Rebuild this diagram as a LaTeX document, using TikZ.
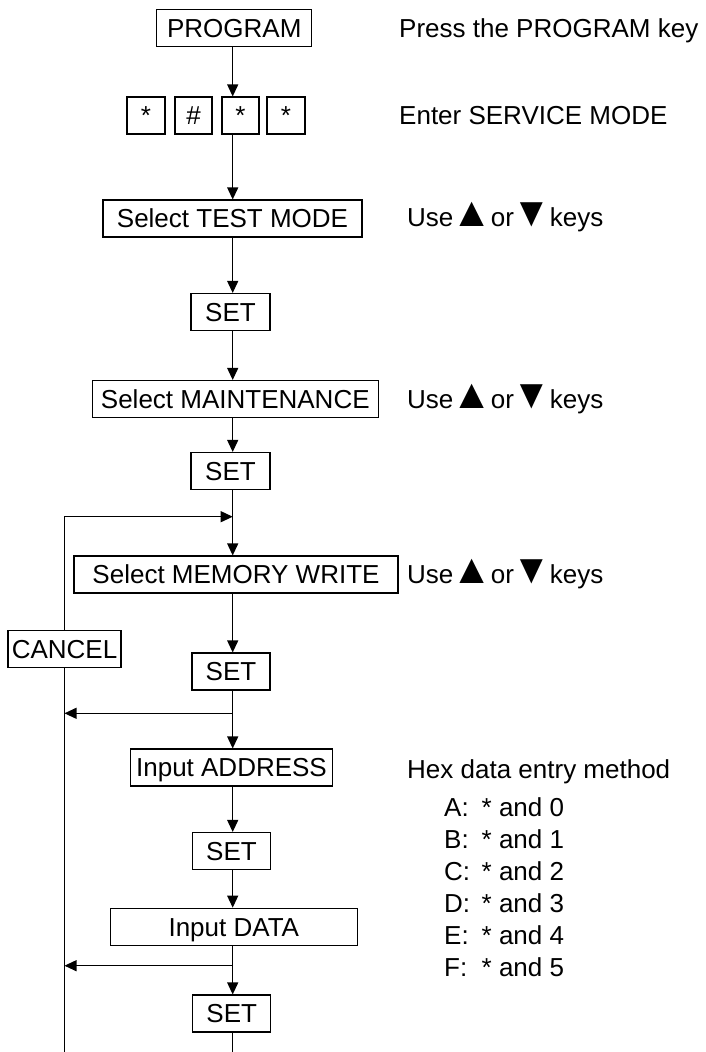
\documentclass[tikz,border=0pt]{standalone}
\usepackage{fontspec}
\setmainfont{Liberation Sans}
\usetikzlibrary{arrows.meta}
\newcommand{\upkey}{\makebox[23pt]{\scalebox{1.6}[1.6]{▲}}}
\newcommand{\downkey}{\makebox[21.5pt]{\scalebox{1.5}[1.6]{▼}}}
\tikzset{
  key/.style={draw,line width=1.1pt,inner sep=0pt,minimum height=37pt,text height=18.6pt,text depth=0pt},
  note/.style={anchor=west,inner sep=0pt,text height=18.6pt,text depth=0pt},
  flow/.style={line width=1.1pt,-{Triangle[length=12pt,width=11pt]}},
  wire/.style={line width=1.1pt}
}
\begin{document}
\begin{tikzpicture}[x=1pt,y=-1pt,font=\fontsize{26}{31}\selectfont]
    \useasboundingbox (0,0) rectangle (705,1052);
    \coordinate (col) at (232.7,0);
    % boxes of the main column
    \node[key,minimum width=155pt] (prog) at (234.3,27.7) {PROGRAM};
    \node[key,minimum width=38pt] (k1) at (146,115.5) {*};
    \node[key,minimum width=37pt] (k2) at (193.5,115.5) {\#};
    \node[key,minimum width=37pt] (k3) at (240.5,115.5) {*};
    \node[key,minimum width=38pt] (k4) at (286,115.5) {*};
    \node[key,minimum width=259pt] (test) at (232.5,218.5) {Select TEST MODE};
    \node[key,minimum width=79pt] (set1) at (230.5,312) {SET};
    \node[key,minimum width=286pt] (maint) at (235.3,399) {Select MAINTENANCE};
    \node[key,minimum width=79pt] (set2) at (230.5,471) {SET};
    \node[key,minimum width=324pt] (mem) at (236,574.5) {Select MEMORY WRITE};
    \node[key,minimum width=78pt] (set3) at (231,671.5) {SET};
    \node[key,minimum width=202pt] (addr) at (231.5,767.5) {Input ADDRESS};
    \node[key,minimum width=78pt] (set4) at (231.5,851) {SET};
    \node[key,minimum width=247pt] (data) at (233.8,926.7) {Input DATA};
    \node[key,minimum width=78pt] (set5) at (231.7,1013.5) {SET};
    \node[key,minimum width=113pt] (cancel) at (64.5,649) {CANCEL};
    % notes on the right
    \node[note] (n1) at (399,27.7) {Press the PROGRAM key};
    \node[note] (n2) at (399,115.5) {Enter SERVICE MODE};
    \node[note] (n3) at (407,217.5) {Use \upkey{} or \downkey{} keys};
    \node[note] (n4) at (407,399) {Use \upkey{} or \downkey{} keys};
    \node[note] (n5) at (407,574) {Use \upkey{} or \downkey{} keys};
    \node[note] (hex) at (407,769) {Hex data entry method};
    \node[note] (hA) at (444,807) {\makebox[37.5pt][l]{A:}* and 0};
    \node[note] (hB) at (444,839) {\makebox[37.5pt][l]{B:}* and 1};
    \node[note] (hC) at (444,871) {\makebox[37.5pt][l]{C:}* and 2};
    \node[note] (hD) at (444,903) {\makebox[37.5pt][l]{D:}* and 3};
    \node[note] (hE) at (444,935) {\makebox[37.5pt][l]{E:}* and 4};
    \node[note] (hF) at (444,967) {\makebox[37.5pt][l]{F:}* and 5};
    % connectors
    \draw[flow] (prog.south -| col) -- (k3.north -| col);
    \draw[flow] (k3.south -| col) -- (test.north -| col);
    \draw[flow] (test.south -| col) -- (set1.north -| col);
    \draw[flow] (set1.south -| col) -- (maint.north -| col);
    \draw[flow] (maint.south -| col) -- (set2.north -| col);
    \draw[flow] (set2.south -| col) -- (mem.north -| col);
    \draw[flow] (mem.south -| col) -- (set3.north -| col);
    \draw[flow] (set3.south -| col) -- (addr.north -| col);
    \draw[flow] (addr.south -| col) -- (set4.north -| col);
    \draw[flow] (set4.south -| col) -- (data.north -| col);
    \draw[flow] (data.south -| col) -- (set5.north -| col);
    \coordinate (bot) at (232.7,1052);
    \draw[wire] (set5.south -| col) -- (bot);
    % cancel loop
    \coordinate (loopin) at (232.7,516.7);
    \coordinate (out1) at (232.7,713.3);
    \coordinate (out2) at (232.7,965.7);
    \coordinate (cbot) at (64.5,1052);
    \draw[flow] (cancel.north) |- (loopin);
    \draw[wire] (cancel.south) -- (cbot);
    \draw[flow] (out1) -- (out1 -| cancel);
    \draw[flow] (out2) -- (out2 -| cancel);
\end{tikzpicture}
\end{document}
